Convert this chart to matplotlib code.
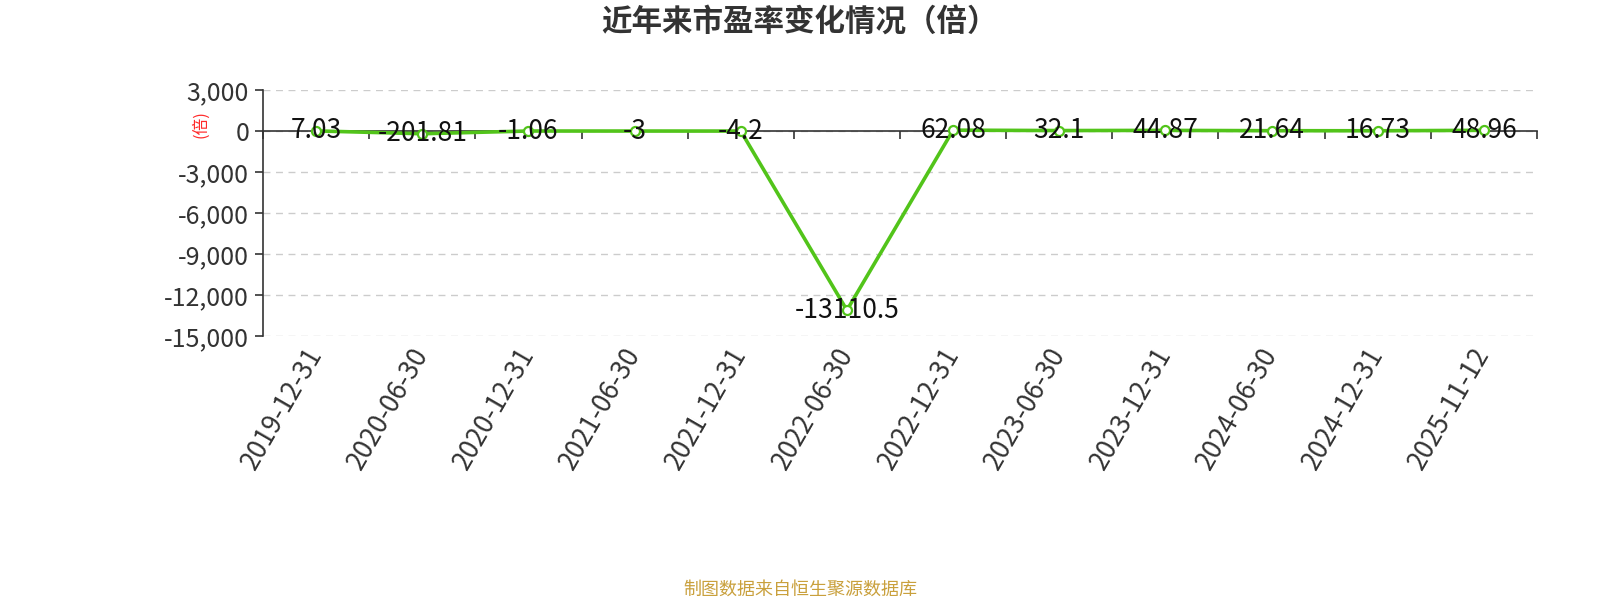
import matplotlib
matplotlib.use('Agg')
import matplotlib.pyplot as plt
import numpy as np

plt.rcParams['font.family'] = ['Noto Sans CJK SC', 'DejaVu Sans']
plt.rcParams['axes.unicode_minus'] = False

dates = ['2019-12-31', '2020-06-30', '2020-12-31', '2021-06-30', '2021-12-31', '2022-06-30',
         '2022-12-31', '2023-06-30', '2023-12-31', '2024-06-30', '2024-12-31', '2025-11-12']
pe = [7.03, -201.81, -1.06, -3, -4.2, -13110.5, 62.08, 32.1, 44.87, 21.64, 16.73, 48.96]
pe_labels = ['7.03', '-201.81', '-1.06', '-3', '-4.2', '-13110.5',
             '62.08', '32.1', '44.87', '21.64', '16.73', '48.96']
yticks = [3000, 0, -3000, -6000, -9000, -12000, -15000]

green = '#52c41a'
x = np.arange(len(dates))

fig = plt.figure(figsize=(16, 6), dpi=100)
ax = fig.add_axes([0.1644, 0.44, 0.7962, 0.41])

ax.plot(x, pe, color=green, linewidth=2.6, marker='o', markersize=6.5,
        markerfacecolor='white', markeredgecolor=green, markeredgewidth=1.6, zorder=5)
for xi, v, s in zip(x, pe, pe_labels):
    ax.text(xi, v, s, ha='center', va='center', fontsize=19, color='#111111', zorder=6)

ax.set_xlim(-0.5, len(dates) - 0.5)
ax.set_ylim(-15000, 3000)
ax.set_yticks(yticks)
ax.set_yticklabels(['{:,}'.format(t) for t in yticks])
ax.yaxis.grid(True, linestyle=(0, (5, 4)), color='#cccccc', linewidth=1)
ax.set_axisbelow(True)

for s in ['top', 'right', 'bottom']:
    ax.spines[s].set_visible(False)
ax.spines['left'].set_color('#333333')
ax.spines['left'].set_linewidth(1.2)
ax.tick_params(axis='y', direction='out', length=6, width=1.2, color='#333333',
               labelsize=18, labelcolor='#333333', pad=4)

ax.set_xticks(x)
ax.set_xticklabels(dates, rotation=60, ha='right', va='center', rotation_mode='anchor')
ax.tick_params(axis='x', length=0, labelsize=19, labelcolor='#333333', pad=10)

# x axis line at zero
loc0 = (0 - ax.get_ylim()[0]) / (ax.get_ylim()[1] - ax.get_ylim()[0])
ax0 = ax.secondary_xaxis(loc0)
ax0.set_alignment('bottom')
ax0.set_xticks(np.arange(-0.5, len(dates), 1.0))
ax0.set_xticklabels([])
ax0.tick_params(axis='x', direction='out', length=6, width=1.2, color='#333333')
for sp in ax0.spines.values():
    sp.set_color('#333333')
    sp.set_linewidth(1.2)
ax0.set_zorder(4)

ax.text(-0.049, 0.862, '(倍)', transform=ax.transAxes, rotation=90, color='#ff2a2a',
        fontsize=12, ha='center', va='center')

fig.text(0.5, 0.962, '近年来市盈率变化情况（倍）', ha='center', va='center',
         fontsize=22, fontweight='bold', color='#333333')
fig.text(0.5, 0.017, '制图数据来自恒生聚源数据库', ha='center', va='center',
         fontsize=13, color='#c9a03c')

fig.savefig('out.png', dpi=100)
